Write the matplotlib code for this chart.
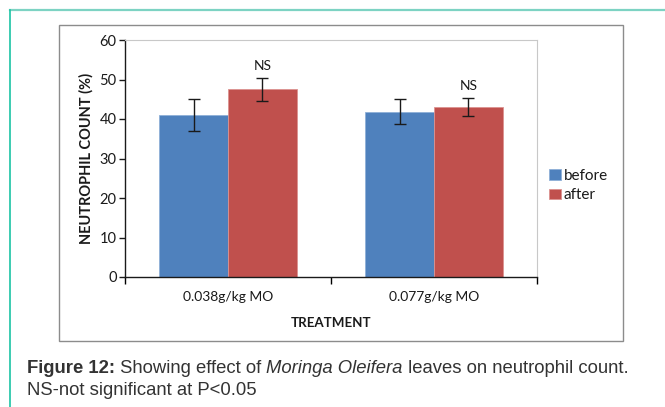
import matplotlib.pyplot as plt
import matplotlib.patches as mpatches
from matplotlib.lines import Line2D
import numpy as np

# data
categories = ['0.038g/kg MO', '0.077g/kg MO']
before = [41.0, 41.85]
before_err = [4.0, 3.2]
after = [47.5, 43.1]
after_err = [3.0, 2.3]
ns_labels = ['NS', 'NS']

blue = '#4F81BD'
red = '#C0504D'
chart_font = 'Lato'
cap_font = 'Liberation Sans'

fig = plt.figure(figsize=(6.65, 4.07), dpi=100)
W, H = 665.0, 407.0

# page frame lines (teal)
fig.add_artist(Line2D([10 / W, 1.0], [1 - 10 / H, 1 - 10 / H], color='#7dd3c3', lw=1.6))
fig.add_artist(Line2D([10 / W, 10 / W], [0.0, 1 - 10 / H], color='#1bc4a4', lw=1.2))

# chart box
fig.add_artist(mpatches.Rectangle((59 / W, 1 - 341 / H), (623 - 59) / W, (341 - 25) / H,
                                  fill=False, ec='#8c8c8c', lw=1.0))

ax = fig.add_axes([125 / W, 1 - 277 / H, (537 - 125) / W, (277 - 40) / H])

x = np.arange(len(categories)) + 0.5
width = 0.333
ax.bar(x - width / 2, before, width, color=blue, edgecolor='#8fb0d8', lw=0.6, label='before', zorder=2)
ax.bar(x + width / 2, after, width, color=red, edgecolor='#dc9290', lw=0.6, label='after', zorder=2)
ax.errorbar(x - width / 2, before, yerr=before_err, fmt='none', ecolor='#1a1a1a', elinewidth=1.0,
            capsize=4, capthick=1.0, zorder=3)
ax.errorbar(x + width / 2, after, yerr=after_err, fmt='none', ecolor='#1a1a1a', elinewidth=1.0,
            capsize=4, capthick=1.0, zorder=3)
for i, lab in enumerate(ns_labels):
    ax.annotate(lab, (x[i] + width / 2, after[i] + after_err[i]), xytext=(0, 4),
                textcoords='offset points', ha='center', va='bottom',
                fontsize=10, family=chart_font, color='#1a1a1a')

ax.set_xlim(0, len(categories))
ax.set_ylim(0, 60)
ax.set_yticks(range(0, 61, 10))
ax.set_xticks(np.arange(len(categories) + 1))
ax.set_xticklabels([])
ax.set_xticks(x, minor=True)
ax.set_xticklabels(categories, minor=True)
ax.tick_params(axis='x', which='minor', length=0, pad=10, labelsize=10)
ax.tick_params(axis='x', which='major', length=5, direction='out', width=1)
ax.tick_params(axis='y', length=4, direction='out', width=1, labelsize=10.5, pad=2, colors='#1a1a1a')
for lab in ax.get_xticklabels(minor=True) + ax.get_yticklabels():
    lab.set_family(chart_font)
    lab.set_color('#1a1a1a')

for s in ['top', 'right']:
    ax.spines[s].set_color('#c8c8c8')
    ax.spines[s].set_linewidth(0.8)
for s in ['left', 'bottom']:
    ax.spines[s].set_color('#1a1a1a')
    ax.spines[s].set_linewidth(1.0)

ax.set_ylabel('NEUTROPHIL COUNT (%)', fontsize=10.5, fontweight='bold', family=chart_font,
              labelpad=4, color='#1a1a1a')
ax.set_xlabel('TREATMENT', fontsize=9.6, fontweight='bold', family=chart_font,
              labelpad=10, color='#1a1a1a')

leg = fig.legend(loc='upper left', bbox_to_anchor=(549 / W, 1 - 169 / H), frameon=False,
                 handlelength=0.8, handleheight=0.72, handletextpad=0.15, labelspacing=0.35,
                 borderaxespad=0, borderpad=0,
                 prop={'family': chart_font, 'size': 11})
for t in leg.get_texts():
    t.set_color('#1a1a1a')

# caption with mixed styles
renderer = fig.canvas.get_renderer()
cap_col = '#333333'
cap_size = 13.35
pieces = [('Figure 12:', 'bold', 'normal'),
          (' Showing effect of ', 'normal', 'normal'),
          ('Moringa Oleifera', 'normal', 'italic'),
          (' leaves on neutrophil count.', 'normal', 'normal')]
xpos = 27
for txt, wt, st in pieces:
    t = fig.text(xpos / W, 1 - 373 / H, txt, fontsize=cap_size, family=cap_font, weight=wt,
                 style=st, color=cap_col, va='baseline', ha='left')
    bb = t.get_window_extent(renderer=renderer)
    xpos += bb.width
fig.text(27 / W, 1 - 395 / H, 'NS-not significant at P<0.05', fontsize=cap_size, family=cap_font,
         color=cap_col, va='baseline', ha='left')

fig.savefig('out.png', dpi=100)
